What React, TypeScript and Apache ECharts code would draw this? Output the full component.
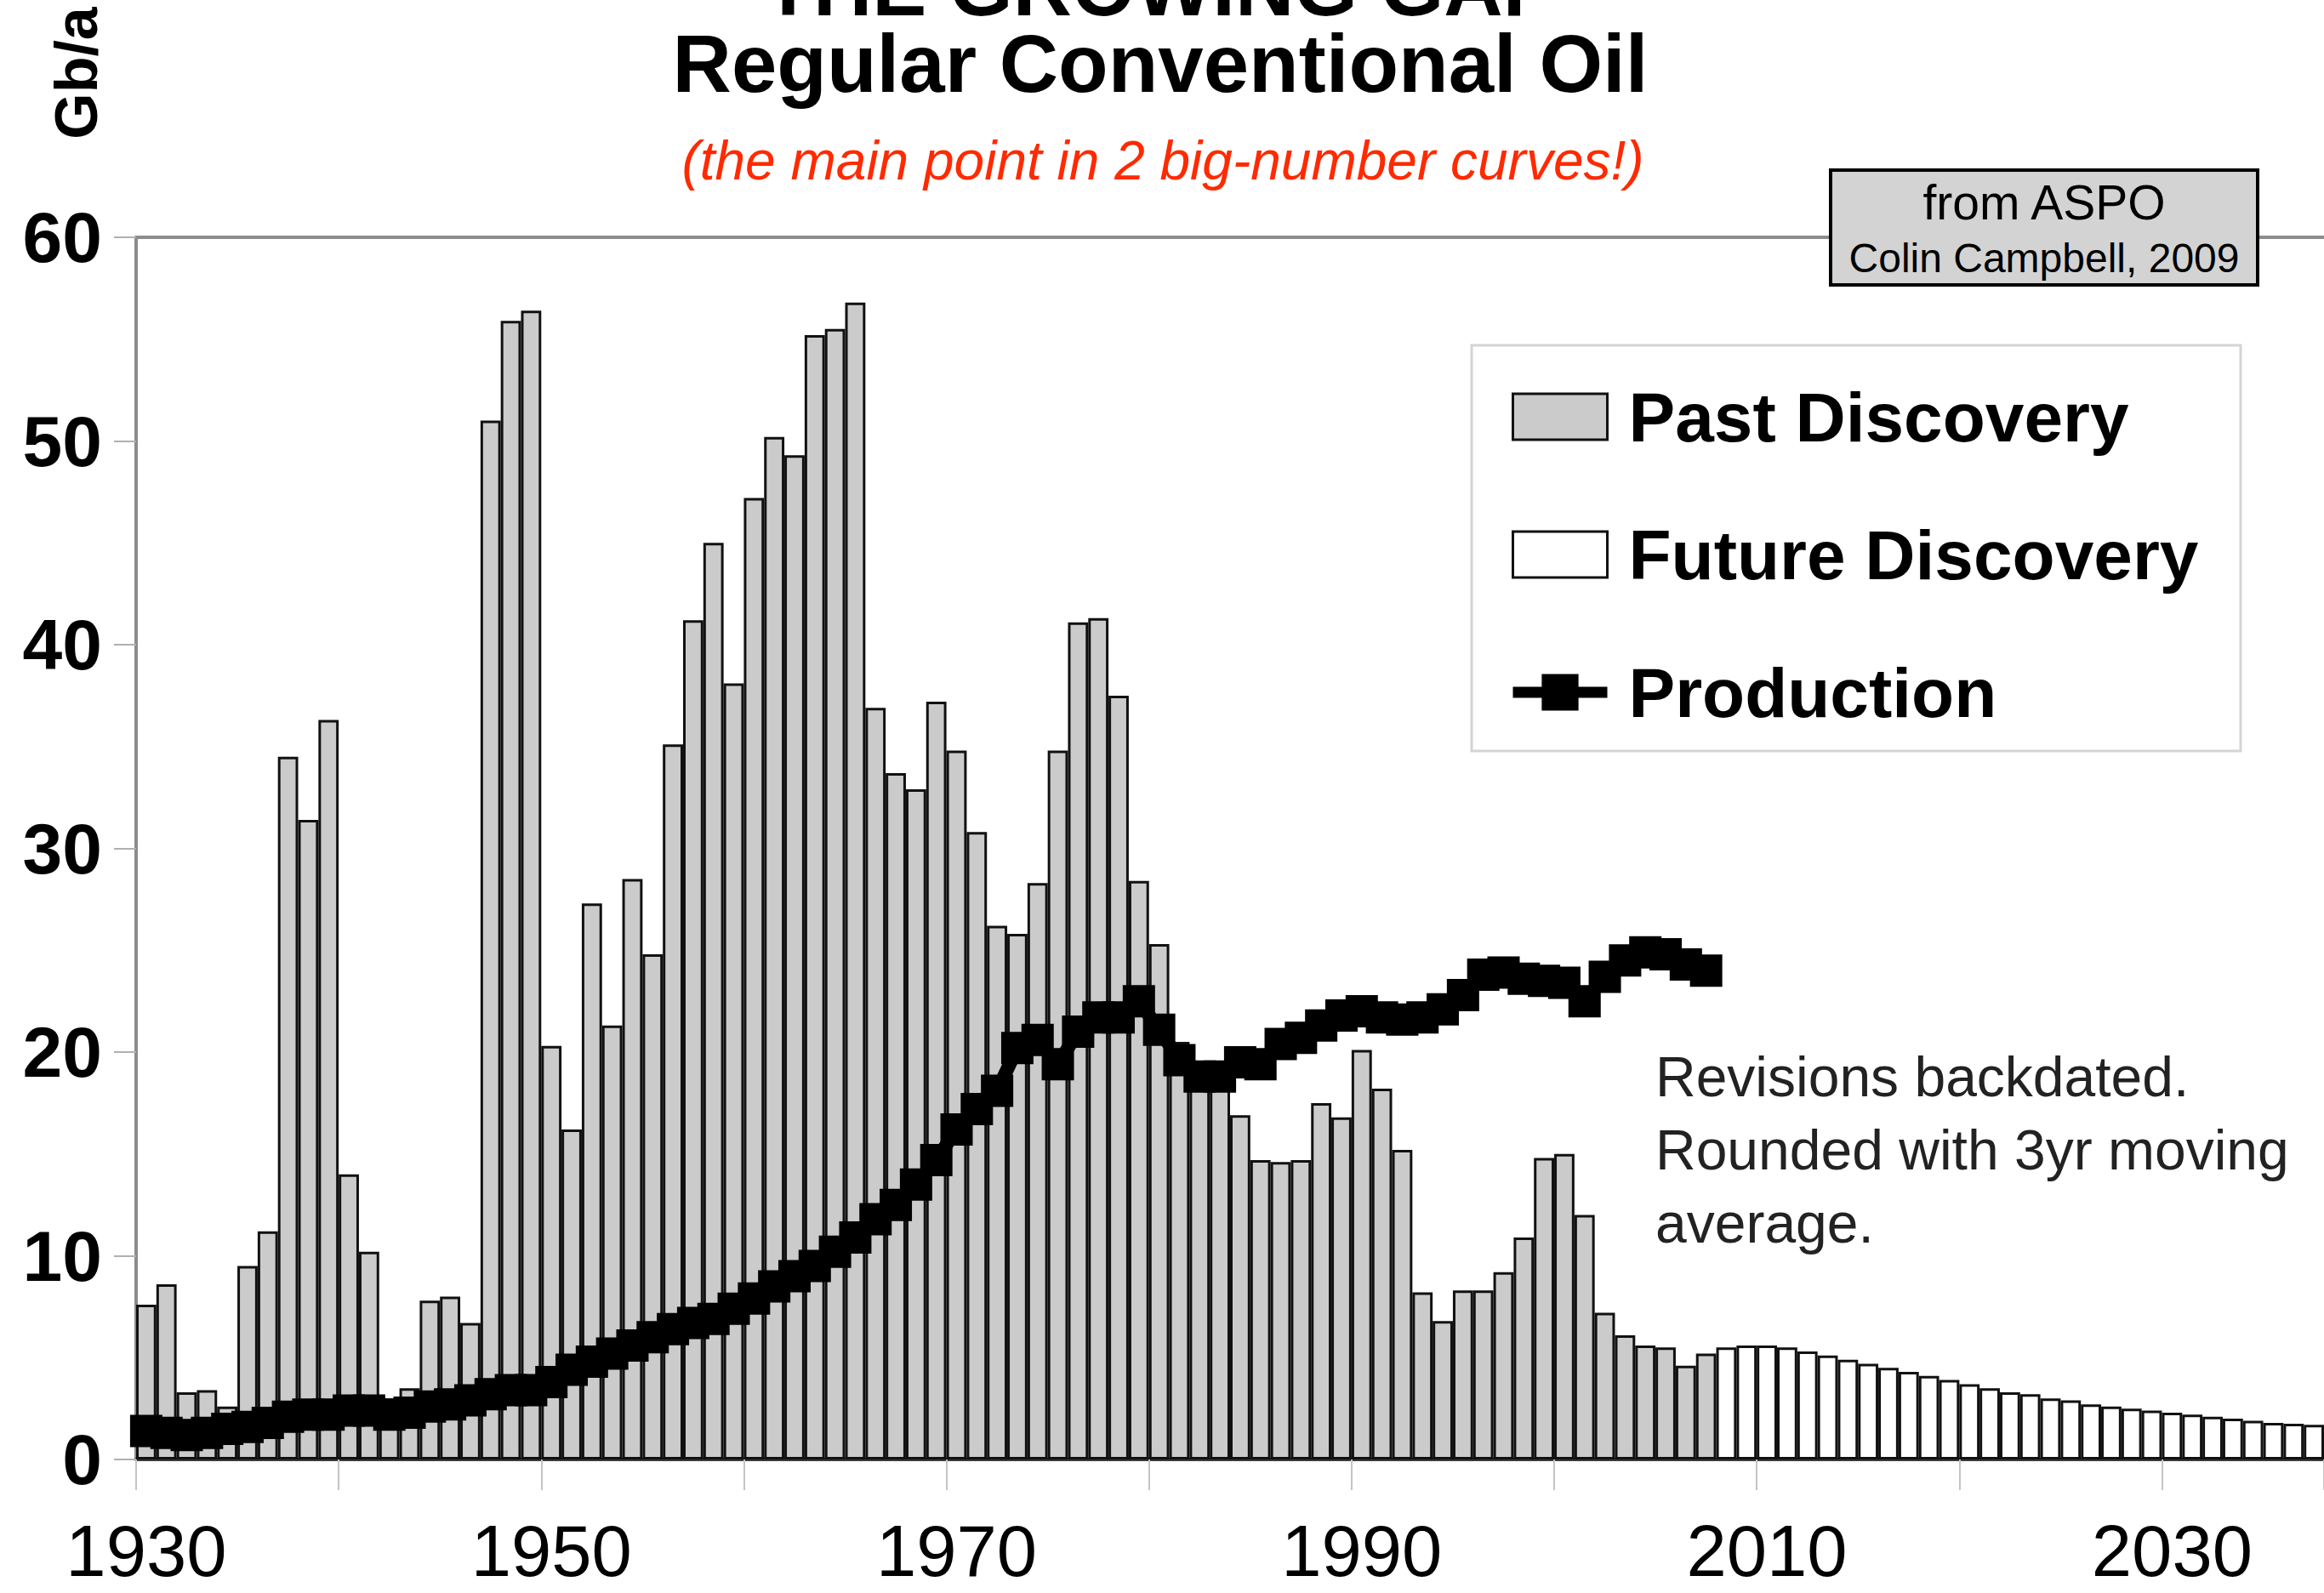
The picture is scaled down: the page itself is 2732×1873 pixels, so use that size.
import React, { useEffect, useRef } from "react";
import * as echarts from "echarts";

const FIRST_YEAR = 1930;
const LAST_YEAR = 2037;
const years: string[] = [];
for (let y = FIRST_YEAR; y <= LAST_YEAR; y++) years.push(String(y));

// Past discovery, Gb/a, 1930..2007
const pastDiscovery = [
  7.6, 8.6, 3.3, 3.4, 2.6, 9.5, 11.2, 34.5, 31.4, 36.3, // 1930-1939
  14.0, 10.2, 3.0, 3.5, 7.8, 8.0, 6.7, 51.0, 55.9, 56.4, // 1940-1949
  20.3, 16.2, 27.3, 21.3, 28.5, 24.8, 35.1, 41.2, 45.0, 38.1, // 1950-1959
  47.2, 50.2, 49.3, 55.2, 55.5, 56.8, 36.9, 33.7, 32.9, 37.2, // 1960-1969
  34.8, 30.8, 26.2, 25.8, 28.3, 34.8, 41.1, 41.3, 37.5, 28.4, // 1970-1979
  25.3, 20.5, 19.2, 18.6, 16.9, 14.7, 14.6, 14.7, 17.5, 16.8, // 1980-1989
  20.1, 18.2, 15.2, 8.2, 6.8, 8.3, 8.3, 9.2, 10.9, 14.8, // 1990-1999
  15.0, 12.0, 7.2, 6.1, 5.6, 5.5, 4.6, 5.2, // 2000-2007
];

// Future discovery, Gb/a, 2008..2037
const futureDiscovery = [
  5.5, 5.6, 5.6, 5.5, 5.3, 5.1, 4.9, 4.7, 4.5, 4.3, // 2008-2017
  4.1, 3.9, 3.7, 3.5, 3.3, 3.2, 3.0, 2.9, 2.7, 2.6, // 2018-2027
  2.5, 2.4, 2.3, 2.2, 2.1, 2.0, 1.9, 1.8, 1.75, 1.7, // 2028-2037
];

// Production, Gb/a, 1930..2007
const production = [
  1.4, 1.3, 1.2, 1.3, 1.5, 1.6, 1.8, 2.1, 2.2, 2.2, // 1930-1939
  2.4, 2.4, 2.2, 2.3, 2.6, 2.7, 2.9, 3.2, 3.4, 3.4, // 1940-1949
  3.8, 4.4, 4.8, 5.2, 5.6, 6.0, 6.4, 6.7, 6.9, 7.4, // 1950-1959
  7.9, 8.5, 9.0, 9.5, 10.2, 10.9, 11.8, 12.5, 13.5, 14.7, // 1960-1969
  16.2, 17.2, 18.1, 20.2, 20.6, 19.4, 21.0, 21.7, 21.7, 22.5, // 1970-1979
  21.1, 19.6, 18.8, 18.8, 19.5, 19.4, 20.4, 20.7, 21.3, 21.8, // 1980-1989
  22.0, 21.7, 21.6, 21.7, 22.1, 22.8, 23.8, 23.9, 23.6, 23.5, // 1990-1999
  23.4, 22.5, 23.7, 24.5, 24.9, 24.8, 24.3, 24.0, // 2000-2007
];

const Y_MIN = 0;
const Y_MAX = 60;
const Y_STEP = 10;

const FONT = "'Liberation Sans', Arial, Helvetica, sans-serif";

export default function App() {
  const ref = useRef<HTMLDivElement | null>(null);

  useEffect(() => {
    if (!ref.current) return;
    const chart = echarts.init(ref.current, undefined, { renderer: "svg" });

    const pastData: (number | null)[] = years.map((_, i) =>
      i < pastDiscovery.length ? pastDiscovery[i] : null
    );
    const futureStart = pastDiscovery.length;
    const futureData: (number | null)[] = years.map((_, i) =>
      i >= futureStart && i - futureStart < futureDiscovery.length
        ? futureDiscovery[i - futureStart]
        : null
    );
    const prodData: (number | null)[] = years.map((_, i) =>
      i < production.length ? production[i] : null
    );

    const option: any = {
      animation: false,
      backgroundColor: "#ffffff",
      textStyle: { fontFamily: FONT },
      grid: { left: 160, right: -6, top: 279, bottom: 157, containLabel: false },
      xAxis: [
        {
          type: "category",
          data: years,
          boundaryGap: true,
          position: "bottom",
          axisLine: { show: true, lineStyle: { color: "#3a3a3a", width: 4 } },
          axisTick: {
            show: true,
            interval: 9,
            length: 36,
            lineStyle: { color: "#c4c4c4", width: 2 },
          },
          axisLabel: {
            interval: 19,
            fontSize: 85,
            lineHeight: 66,
            color: "#000",
            margin: 74,
            fontFamily: FONT,
          },
          splitLine: { show: false },
        },
        {
          type: "category",
          data: years,
          position: "top",
          axisLine: { show: true, lineStyle: { color: "#8c8c8c", width: 4 } },
          axisTick: { show: false },
          axisLabel: { show: false },
          splitLine: { show: false },
        },
      ],
      yAxis: {
        type: "value",
        min: Y_MIN,
        max: Y_MAX,
        interval: Y_STEP,
        axisLine: { show: true, lineStyle: { color: "#8c8c8c", width: 4 } },
        axisTick: { show: true, length: 26, lineStyle: { color: "#b0b0b0", width: 2 } },
        splitLine: { show: false },
        axisLabel: {
          fontSize: 84,
          fontWeight: "bold",
          color: "#000",
          margin: 40,
          fontFamily: FONT,
        },
      },
      legend: {
        orient: "vertical",
        left: 1767,
        top: 444,
        itemWidth: 111,
        itemHeight: 54,
        itemGap: 80,
        selectedMode: false,
        data: [
          { name: "Past Discovery", icon: "rect" },
          { name: "Future Discovery", icon: "rect" },
          { name: "Production" },
        ],
        itemStyle: { borderWidth: 3 },
        lineStyle: { width: 13 },
        textStyle: {
          fontSize: 82,
          fontWeight: "bold",
          color: "#000",
          lineHeight: 80,
          padding: [0, 0, 0, 20],
          fontFamily: FONT,
        },
        z: 10,
      },
      series: [
        {
          name: "Past Discovery",
          type: "bar",
          stack: "discovery",
          data: pastData,
          barCategoryGap: "0%",
          itemStyle: { color: "#cbcbcb", borderColor: "#111", borderWidth: 3 },
          z: 2,
        },
        {
          name: "Future Discovery",
          type: "bar",
          stack: "discovery",
          data: futureData,
          barCategoryGap: "0%",
          itemStyle: { color: "#ffffff", borderColor: "#111", borderWidth: 3 },
          z: 2,
        },
        {
          name: "Production",
          type: "line",
          data: prodData,
          symbol: "rect",
          symbolSize: [38, 38],
          showSymbol: true,
          showAllSymbol: true,
          connectNulls: false,
          lineStyle: { color: "#000", width: 16 },
          itemStyle: { color: "#000" },
          z: 5,
        },
      ],
      graphic: [
        {
          type: "rect",
          z: -10,
          shape: { x: 1730, y: 406, width: 904, height: 477 },
          style: { fill: "#ffffff", stroke: "#d4d4d4", lineWidth: 3 },
        },
        {
          type: "text",
          x: 1364,
          y: -16,
          style: {
            text: "THE GROWING GAP",
            fontSize: 96,
            fontWeight: "bold",
            fontFamily: FONT,
            fill: "#000",
            align: "center",
            verticalAlign: "middle",
            lineHeight: 60,
          },
        },
        {
          type: "text",
          x: 1364,
          y: 74,
          style: {
            text: "Regular Conventional Oil",
            fontSize: 96,
            fontWeight: "bold",
            fontFamily: FONT,
            fill: "#000",
            align: "center",
            verticalAlign: "middle",
            lineHeight: 80,
          },
        },
        {
          type: "text",
          x: 1367,
          y: 189,
          style: {
            text: "(the main point in 2 big-number curves!)",
            fontSize: 64,
            fontStyle: "italic",
            fontFamily: FONT,
            fill: "#ff2a00",
            align: "center",
            verticalAlign: "middle",
          },
        },
        {
          type: "text",
          x: 90,
          y: 86,
          rotation: Math.PI / 2,
          style: {
            text: "Gb/a",
            fontSize: 70,
            fontWeight: "bold",
            fontFamily: FONT,
            fill: "#000",
            align: "center",
            verticalAlign: "middle",
          },
        },
        {
          type: "rect",
          z: 20,
          shape: { x: 2152, y: 200, width: 502, height: 135 },
          style: { fill: "#d3d3d3", stroke: "#000", lineWidth: 4 },
        },
        {
          type: "text",
          z: 21,
          x: 2403,
          y: 238,
          style: {
            text: "from ASPO",
            fontSize: 57,
            fontFamily: FONT,
            fill: "#000",
            align: "center",
            verticalAlign: "middle",
          },
        },
        {
          type: "text",
          z: 21,
          x: 2403,
          y: 303,
          style: {
            text: "Colin Campbell, 2009",
            fontSize: 48,
            fontFamily: FONT,
            fill: "#000",
            align: "center",
            verticalAlign: "middle",
          },
        },
        {
          type: "text",
          x: 1946,
          y: 1266,
          style: {
            text: "Revisions backdated.",
            fontSize: 66,
            fontFamily: FONT,
            fill: "#222",
            align: "left",
            verticalAlign: "middle",
          },
        },
        {
          type: "text",
          x: 1946,
          y: 1352,
          style: {
            text: "Rounded with 3yr moving",
            fontSize: 66,
            fontFamily: FONT,
            fill: "#222",
            align: "left",
            verticalAlign: "middle",
          },
        },
        {
          type: "text",
          x: 1946,
          y: 1438,
          style: {
            text: "average.",
            fontSize: 66,
            fontFamily: FONT,
            fill: "#222",
            align: "left",
            verticalAlign: "middle",
          },
        },
      ],
    };

    chart.setOption(option);
    return () => {
      chart.dispose();
    };
  }, []);

  return (
    <div
      ref={ref}
      style={{ position: "absolute", left: 0, top: 0, width: 2732, height: 1873 }}
    />
  );
}
